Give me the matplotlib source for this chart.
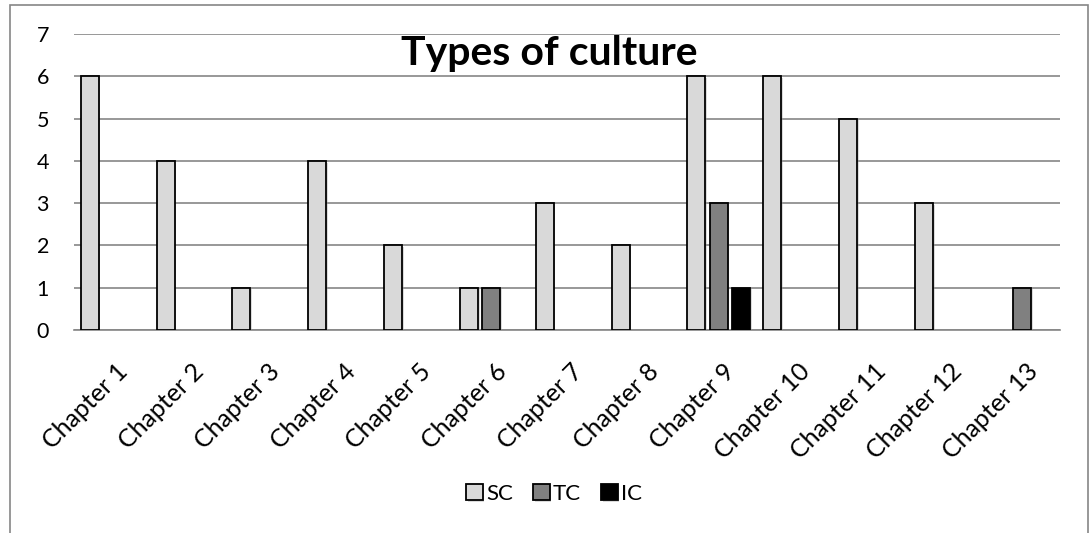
import numpy as np
import matplotlib
matplotlib.use("Agg")
import matplotlib.pyplot as plt
import matplotlib.patheffects as pe
from matplotlib.patches import Rectangle
from matplotlib.transforms import ScaledTranslation

plt.rcParams['font.family'] = ['Lato', 'DejaVu Sans']

chapters = [f"Chapter {i}" for i in range(1, 14)]
sc_values = [6, 4, 1, 4, 2, 1, 3, 2, 6, 6, 5, 3, 0]
tc_values = [0, 0, 0, 0, 0, 1, 0, 0, 3, 0, 0, 0, 1]
ic_values = [0, 0, 0, 0, 0, 0, 0, 0, 1, 0, 0, 0, 0]
series_names = ["SC", "TC", "IC"]
series_colors = ["#D9D9D9", "#808080", "#000000"]
y_ticks = [0, 1, 2, 3, 4, 5, 6, 7]

fig = plt.figure(figsize=(10.92, 5.33), dpi=100)
ax = fig.add_axes([74 / 1092, 1 - 330 / 533, (1060 - 74) / 1092, (330 - 34) / 533])

x = np.arange(len(chapters))
width = 0.237
offsets = [-0.293, 0.0, 0.293]
shadow = [pe.SimplePatchShadow(offset=(1.2, -1.2), shadow_rgbFace="#999999", alpha=0.35),
          pe.Normal()]
for vals, name, color, off in zip([sc_values, tc_values, ic_values],
                                  series_names, series_colors, offsets):
    heights = np.array(vals, dtype=float)
    heights[heights == 0] = np.nan  # empty categories get no bar
    bars = ax.bar(x + off, heights, width=width, color=color, edgecolor="black",
                  linewidth=1.3, label=name, zorder=3)
    for b in bars:
        b.set_path_effects(shadow)

ax.set_xlim(-0.5, len(chapters) - 0.5)
ax.set_ylim(0, 7)
ax.set_yticks(y_ticks)
ax.yaxis.grid(True, color="#868686", linewidth=1.2, zorder=0)
ax.set_axisbelow(True)
for side in ["left", "right", "top"]:
    ax.spines[side].set_visible(False)
ax.spines["bottom"].set_color("#868686")
ax.spines["bottom"].set_linewidth(1.2)
ax.tick_params(axis="y", length=0, pad=18, labelsize=15.5)
ax.tick_params(axis="x", length=0, pad=21, labelsize=18)
ax.set_xticks(x)
ax.set_xticklabels(chapters, rotation=45, ha="right", rotation_mode="anchor")
nudge = ScaledTranslation(4 / 100, 0, fig.dpi_scale_trans)
for lbl in ax.get_xticklabels():
    lbl.set_transform(lbl.get_transform() + nudge)

fig.text(549 / 1092, 1 - 53 / 533, "Types of culture", ha="center", va="center",
         fontsize=29.5, fontweight="bold")

fig.legend(loc="center", bbox_to_anchor=(554 / 1092, 1 - 494 / 533), ncol=3,
           frameon=False, fontsize=16, handlelength=0.75, handleheight=0.75,
           handletextpad=0.15, columnspacing=0.9)

# outer chart border
fig.add_artist(Rectangle((10 / 1092, -0.05), (1088 - 10) / 1092, 1.05 - 5 / 533,
                         transform=fig.transFigure, fill=False,
                         edgecolor="#868686", linewidth=1.2))

fig.savefig("out.png", dpi=100)
